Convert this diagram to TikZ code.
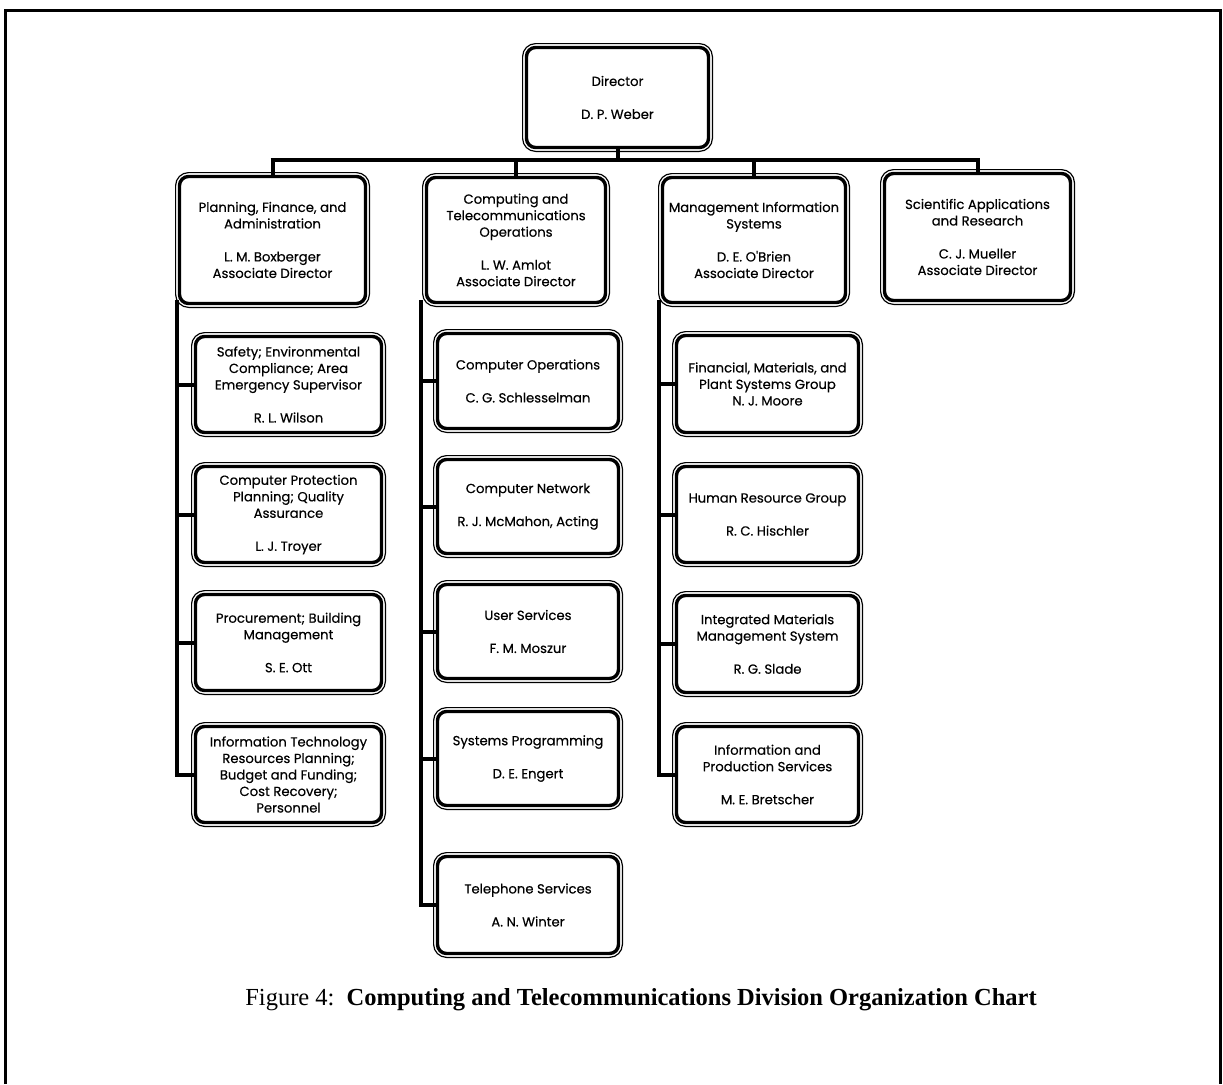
\documentclass[tikz,border=0pt]{standalone}
\usepackage{fontspec}
\setmainfont{Liberation Serif}
\newfontfamily\boxfont[FakeBold=0.35]{Poppins}
\begin{document}
\begin{tikzpicture}[x=1pt,y=-1pt,
  orgnode/.style={draw, line width=3.4pt, rounded corners=9pt, align=center,
    inner sep=2pt, outer sep=0pt,
    font=\boxfont\fontsize{13.2}{16.5}\selectfont},
  outerframe/.style={draw, line width=1.2pt, rounded corners=13pt},
  conn/.style={line width=4pt},
  frameline/.style={line width=3pt}]
\useasboundingbox (0,0) rectangle (1223,1084);
\newcommand\orgbox[6]{%
  \node[orgnode, minimum width={(#4-#2-9)*1pt}, minimum height={(#5-#3-9)*1pt}]
    (#1) at ({(#2+#4)/2},{(#3+#5)/2}) {#6};
  \draw[outerframe] (#2+0.6,#3+0.6) rectangle (#4-0.6,#5-0.6);
}
\def\gap{\\[16.5pt]}
% outer frame
\draw[frameline] (5,1084) -- (5,10) -- (1220.5,10) -- (1220.5,1084);
% director
\orgbox{dir}{522}{43}{713}{152}{Director\gap D. P. Weber}
% top row
\orgbox{plan}{175}{172}{370}{308}{Planning, Finance, and\\Administration\gap L. M. Boxberger\\Associate Director}
\orgbox{comp}{422}{173}{610}{307}{Computing and\\Telecommunications\\Operations\gap L. W. Amlot\\Associate Director}
\orgbox{mis}{658}{173}{850}{307}{Management Information\\Systems\gap D. E. O'Brien\\Associate Director}
\orgbox{sci}{880}{169}{1075}{305}{Scientific Applications\\and Research\gap C. J. Mueller\\Associate Director}
% planning column
\orgbox{safety}{191}{332}{386}{437}{Safety; Environmental\\Compliance; Area\\Emergency Supervisor\gap R. L. Wilson}
\orgbox{cprot}{191}{462}{386}{567}{Computer Protection\\Planning; Quality\\Assurance\gap L. J. Troyer}
\orgbox{proc}{191}{590}{386}{695}{Procurement; Building\\Management\gap S. E. Ott}
\orgbox{it}{191}{722}{386}{827}{Information Technology\\Resources Planning;\\Budget and Funding;\\Cost Recovery;\\Personnel}
% computing column
\orgbox{cops}{433}{329}{623}{433}{Computer Operations\gap C. G. Schlesselman}
\orgbox{cnet}{433}{455}{623}{558}{Computer Network\gap R. J. McMahon, Acting}
\orgbox{user}{433}{580}{623}{683}{User Services\gap F. M. Moszur}
\orgbox{sysp}{433}{707}{623}{810}{Systems Programming\gap D. E. Engert}
\orgbox{tel}{433}{852}{623}{958}{Telephone Services\gap A. N. Winter}
% MIS column
\orgbox{fin}{672}{331}{863}{437}{Financial, Materials, and\\Plant Systems Group\\N. J. Moore}
\orgbox{hr}{672}{462}{863}{567}{Human Resource Group\gap R. C. Hischler}
\orgbox{imms}{672}{591}{863}{697}{Integrated Materials\\Management System\gap R. G. Slade}
\orgbox{ips}{672}{722}{863}{827}{Information and\\Production Services\gap M. E. Bretscher}
% bus
\coordinate (bus) at (617,160);
\draw[conn] (dir.south) -- (dir.south |- bus);
\draw[conn] ([xshift=-2pt]plan.north |- bus) -- ([xshift=2pt]sci.north |- bus);
\foreach \n in {plan,comp,mis,sci} \draw[conn] (\n.north |- bus) -- (\n.north);
% spines
\coordinate (sp1) at (177,300);
\coordinate (sp2) at (421,300);
\coordinate (sp3) at (659,300);
\draw[conn] (sp1) |- (it.west);
\foreach \n in {safety,cprot,proc} \draw[conn] (sp1 |- \n.west) -- (\n.west);
\draw[conn] (sp2) |- (tel.west);
\foreach \n in {cops,cnet,user,sysp} \draw[conn] (sp2 |- \n.west) -- (\n.west);
\draw[conn] (sp3) |- (ips.west);
\foreach \n in {fin,hr,imms} \draw[conn] (sp3 |- \n.west) -- (\n.west);
% caption
\node[font=\fontsize{24.5}{28}\selectfont] (cap) at (641,1000)
  {Figure 4:\ \ \textbf{Computing and Telecommunications Division Organization Chart}};
\end{tikzpicture}
\end{document}
